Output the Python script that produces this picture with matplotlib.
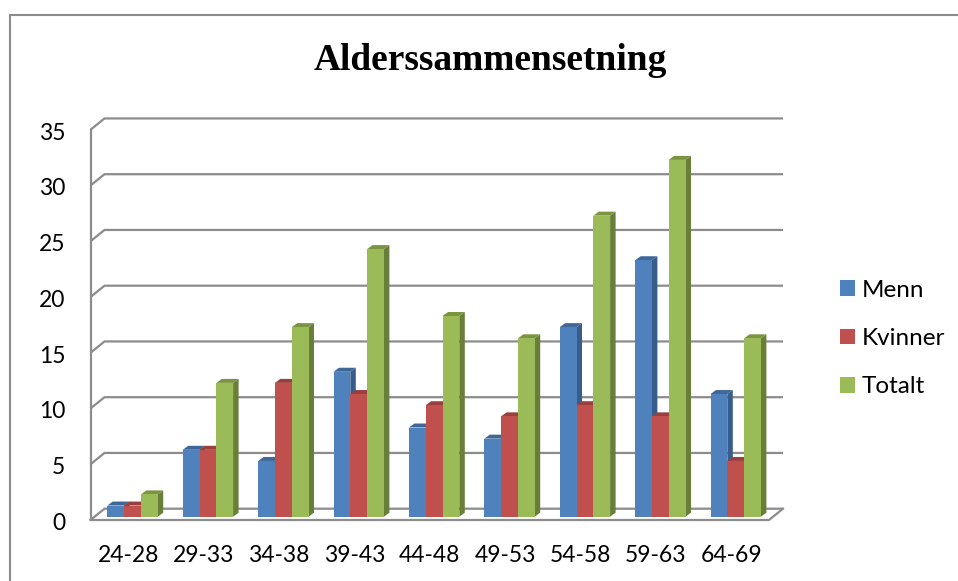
import numpy as np
import matplotlib
matplotlib.use("Agg")
import matplotlib.pyplot as plt
from matplotlib.patches import Polygon, Patch, Rectangle
from matplotlib.transforms import ScaledTranslation

title = "Alderssammensetning"
categories = ["24-28", "29-33", "34-38", "39-43", "44-48", "49-53", "54-58", "59-63", "64-69"]
menn = [1, 6, 5, 13, 8, 7, 17, 23, 11]
kvinner = [1, 6, 12, 11, 10, 9, 10, 9, 5]
totalt = [2, 12, 17, 24, 18, 16, 27, 32, 16]
yticks = [0, 5, 10, 15, 20, 25, 30, 35]

series = [("Menn", menn, "#4F81BD", "#385D8A", "#3F6797"),
          ("Kvinner", kvinner, "#C0504D", "#8C3836", "#9A3F3D"),
          ("Totalt", totalt, "#9BBB59", "#687F3A", "#7A9440")]

W, H = 958, 581
fig = plt.figure(figsize=(W / 100, H / 100), dpi=100, facecolor="white")

# pixel layout
px_left, px_right, px_top, px_bot = 90.5, 783.0, 119.0, 520.0
ux, uy = 75.4, 11.15          # px per category / per value
x0_px, y0_px = 132.5, 516.7   # centre of group 0, baseline of bars
ax = fig.add_axes([px_left / W, 1 - px_bot / H, (px_right - px_left) / W, (px_bot - px_top) / H])
ax.set_xlim((px_left - x0_px) / ux, (px_right - x0_px) / ux)
ax.set_ylim((y0_px - px_bot) / uy, (y0_px - px_top) / uy)
ax.set_facecolor("none")
for s in ax.spines.values():
    s.set_visible(False)

gx = lambda p: p / ux
gy = lambda p: p / uy
GRID = "#8C8C8C"
LW = 1.6
back_dx, back_dy = gx(14), gy(8.0)
front_dy = gy(-3.3)
x_l = ax.get_xlim()[0]
x_r = ax.get_xlim()[1]
x_back = x_l + back_dx
x_fr = x_r - back_dx

# walls and gridlines
for v in yticks:
    ax.plot([x_l, x_back, x_r], [v + front_dy, v + back_dy, v + back_dy], color=GRID, lw=LW,
            solid_capstyle="butt", solid_joinstyle="miter", zorder=1, clip_on=False)
ax.plot([x_l, x_l], [front_dy, 35 + front_dy], color=GRID, lw=LW, zorder=1, clip_on=False)
ax.plot([x_l, x_fr, x_r], [front_dy, front_dy, back_dy], color=GRID, lw=LW,
        solid_joinstyle="miter", zorder=1, clip_on=False)

# bars
bw = 16.8 / ux
dx, dy = gx(5.5), gy(4.0)
z = 3
for i in range(len(categories)):
    for j, (name, vals, front, side, top) in enumerate(series):
        v = vals[i]
        xa = i + (j - 1.5) * bw
        xb = xa + bw
        ax.add_patch(Polygon([(xb, 0), (xb + dx, dy), (xb + dx, v + dy), (xb, v)],
                             closed=True, fc=side, ec="none", zorder=z))
        ax.add_patch(Polygon([(xa, v), (xa + dx, v + dy), (xb + dx, v + dy), (xb, v)],
                             closed=True, fc=top, ec="none", zorder=z))
        ax.bar(i + (j - 1) * bw, v, width=bw, color=front, edgecolor="none", zorder=z + 0.5)
        z += 1

# ticks
ax.set_yticks([v + front_dy for v in yticks], [str(v) for v in yticks])
ax.set_xticks(np.arange(len(categories)) - 0.057, categories)
ax.tick_params(axis="both", length=0, labelsize=16.5, labelcolor="black")
ax.tick_params(axis="y", pad=18)
ax.tick_params(axis="x", pad=17.7)
for t in ax.get_xticklabels() + ax.get_yticklabels():
    t.set_fontfamily("Lato")
shift = ScaledTranslation(0, -1.3 / 100, fig.dpi_scale_trans)
for t in ax.get_yticklabels():
    t.set_transform(t.get_transform() + shift)

fig.text(490 / W, 1 - 60.5 / H, title, family="Liberation Serif", weight="bold", fontsize=26.9,
         ha="center", va="center", color="black")

handles = [Patch(facecolor=s[2], edgecolor="none", label=s[0]) for s in series]
fig.legend(handles=handles, loc="upper left", bbox_to_anchor=(835 / W, 1 - 275 / H), frameon=False,
           prop={"family": "Lato", "size": 17.5}, handlelength=0.617, handleheight=0.617,
           handletextpad=0.29, labelspacing=1.12, borderpad=0.2, borderaxespad=0)

fig.add_artist(Rectangle((9.5 / W, -0.01), (W + 5) / W, 1 - 14.5 / H + 0.01, transform=fig.transFigure,
                         fc="none", ec="#8C8C8C", lw=1.5))

fig.savefig("out.png", dpi=100, facecolor="white")
